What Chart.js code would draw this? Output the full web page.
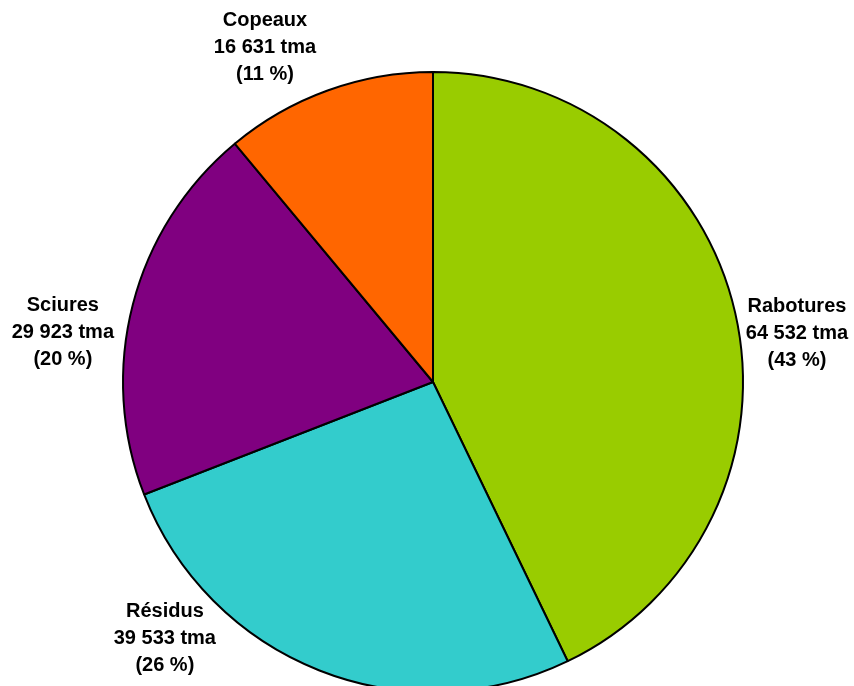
<!DOCTYPE html>
<html>
<head>
<meta charset="utf-8">
<script src="https://cdn.jsdelivr.net/npm/chart.js@4.4.1/dist/chart.umd.min.js"></script>
<style>
  html, body { margin: 0; padding: 0; background: #ffffff; overflow: hidden; width: 854px; height: 686px; }
  #wrap { position: relative; width: 854px; height: 686px; overflow: hidden; }
  canvas { display: block; }
</style>
</head>
<body>
<div id="wrap"><canvas id="pie" width="854" height="764"></canvas></div>
<script>
// Wood residue volumes by type (tma)
const categories = ['Rabotures', 'Résidus', 'Sciures', 'Copeaux'];
const volumes = [64532, 39533, 29923, 16631];
const unit = 'tma';
const sliceColors = ['#99CC00', '#33CCCC', '#800080', '#FF6600'];

// Label block centres, in units of the pie radius from the pie centre
const labelAnchors = [[1.174, -0.158], [-0.865, 0.826], [-1.194, -0.161], [-0.542, -1.08]];

const total = volumes.reduce((a, b) => a + b, 0);
const fmt = v => String(v).replace(/\B(?=(\d{3})+(?!\d))/g, ' ');

const sliceLabels = {
  id: 'sliceLabels',
  afterDatasetsDraw(chart) {
    const ctx = chart.ctx;
    const meta = chart.getDatasetMeta(0);
    ctx.save();
    ctx.fillStyle = '#000000';
    ctx.font = 'bold 20px "Liberation Sans", Arial, sans-serif';
    ctx.textAlign = 'center';
    ctx.textBaseline = 'middle';
    meta.data.forEach((arc, i) => {
      const v = volumes[i];
      const lines = [categories[i], fmt(v) + ' ' + unit, '(' + Math.round(v / total * 100) + ' %)'];
      const cx = arc.x + labelAnchors[i][0] * arc.outerRadius;
      const cy = arc.y + labelAnchors[i][1] * arc.outerRadius;
      const lh = 27;
      lines.forEach((t, k) => ctx.fillText(t, cx, cy + (k - 1) * lh));
    });
    ctx.restore();
  }
};

new Chart(document.getElementById('pie'), {
  type: 'pie',
  data: {
    labels: categories,
    datasets: [{
      data: volumes,
      backgroundColor: sliceColors,
      borderColor: '#000000',
      borderWidth: 2,
      borderAlign: 'center'
    }]
  },
  options: {
    responsive: false,
    animation: false,
    devicePixelRatio: 1,
    radius: 310,
    layout: { padding: { left: 123, right: 111, top: 72, bottom: 72 } },
    plugins: {
      legend: { display: false },
      tooltip: { enabled: false }
    }
  },
  plugins: [sliceLabels]
});
</script>
</body>
</html>
